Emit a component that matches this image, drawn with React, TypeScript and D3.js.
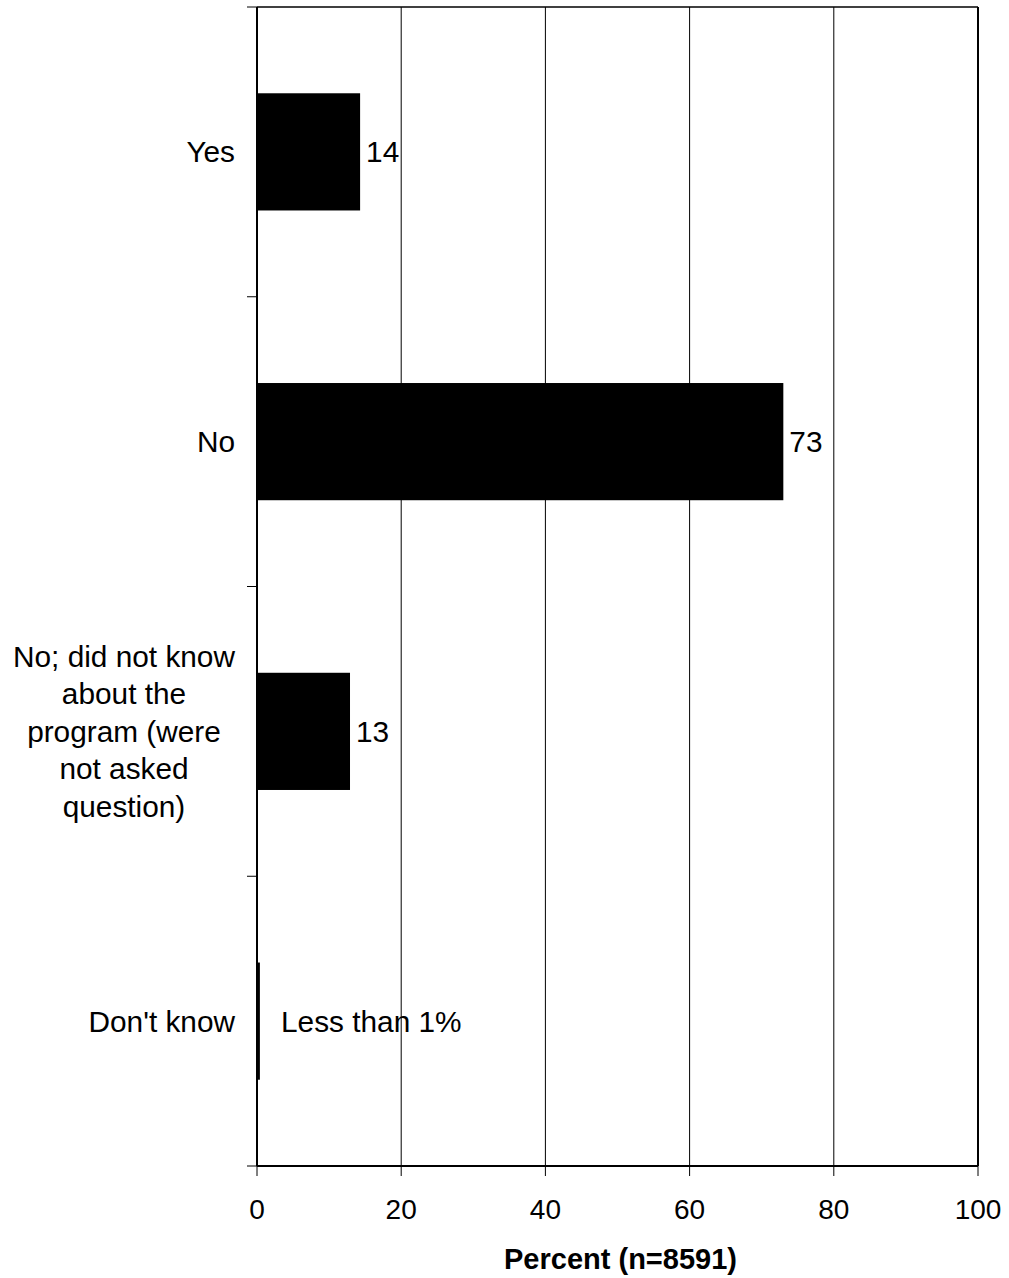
import React from "react";
import * as d3 from "d3";

const categories: string[][] = [
  ["Yes"],
  ["No"],
  ["No; did not know", "about the", "program (were", "not asked", "question)"],
  ["Don't know"],
];
const categoryKeys = ["Yes", "No", "NoDidNotKnow", "DontKnow"];
const values = [14.3, 73.0, 12.9, 0.4];
const valueLabels = ["14", "73", "13", "Less than 1%"];
const xTicks = [0, 20, 40, 60, 80, 100];
const xTitle = "Percent (n=8591)";

const W = 1009;
const H = 1278;
const FONT = "'Liberation Sans', Arial, Helvetica, sans-serif";

export default function App() {
  const x = d3.scaleLinear().domain([0, 100]).range([257, 978]);
  const pInner = 0.5955;
  const y = d3
    .scaleBand<string>()
    .domain(categoryKeys)
    .range([7, 1166])
    .paddingInner(pInner)
    .paddingOuter(pInner / 2);
  const step = y.step();
  const [y0, y1] = y.range();
  const boundaries = d3.range(categoryKeys.length + 1).map((i) => y0 + i * step);
  const fsLabel = 29.8;
  const fsTick = 28;
  const fsTitle = 29;
  const lineH = 37.5;

  return (
    <svg
      width={W}
      height={H}
      style={{ position: "absolute", left: 0, top: 0, background: "#fff" }}
      fontFamily={FONT}
    >
      <rect x={0} y={0} width={W} height={H} fill="#fff" />
      {/* gridlines */}
      {xTicks
        .filter((t) => t > 0 && t < 100)
        .map((t) => (
          <line key={"g" + t} x1={x(t)} x2={x(t)} y1={y0} y2={y1} stroke="#000" strokeWidth={1} />
        ))}
      {/* bars */}
      {categoryKeys.map((k, i) => (
        <rect
          key={"b" + k}
          x={x(0)}
          y={y(k)!}
          width={x(values[i]) - x(0)}
          height={y.bandwidth()}
          fill="#000"
        />
      ))}
      {/* frame */}
      <line x1={x(0)} x2={x(100)} y1={y0} y2={y0} stroke="#000" strokeWidth={1.5} />
      <line x1={x(100)} x2={x(100)} y1={y0} y2={y1} stroke="#000" strokeWidth={2} />
      <line x1={x(0)} x2={x(100)} y1={y1} y2={y1} stroke="#000" strokeWidth={2} />
      <line x1={x(0)} x2={x(0)} y1={y0} y2={y1} stroke="#000" strokeWidth={2} />
      {/* left ticks */}
      {boundaries.map((b, i) => (
        <line key={"lt" + i} x1={x(0) - 10} x2={x(0)} y1={b} y2={b} stroke="#000" strokeWidth={1} />
      ))}
      {/* bottom ticks */}
      {xTicks.map((t) => (
        <line key={"bt" + t} x1={x(t)} x2={x(t)} y1={y1} y2={y1 + 10} stroke="#000" strokeWidth={1} />
      ))}
      {/* x tick labels */}
      {xTicks.map((t) => (
        <text key={"tl" + t} x={x(t)} y={1219} fontSize={fsTick} textAnchor="middle" fill="#000">
          {t}
        </text>
      ))}
      {/* x title */}
      <text x={(x(0) + x(100)) / 2 + 3} y={1269} fontSize={fsTitle} fontWeight="bold" textAnchor="middle" fill="#000">
        {xTitle}
      </text>
      {/* category labels */}
      {categoryKeys.map((k, i) => {
        const lines = categories[i];
        const cy = y(k)! + y.bandwidth() / 2;
        if (lines.length === 1) {
          return (
            <text key={"c" + k} x={235} y={cy + 10.5} fontSize={fsLabel} textAnchor="end" fill="#000">
              {lines[0]}
            </text>
          );
        }
        const startY = cy + 10.5 - ((lines.length - 1) / 2) * lineH;
        return (
          <text key={"c" + k} fontSize={fsLabel} textAnchor="middle" fill="#000">
            {lines.map((ln, j) => (
              <tspan key={j} x={124} y={startY + j * lineH}>
                {ln}
              </tspan>
            ))}
          </text>
        );
      })}
      {/* value labels */}
      {categoryKeys.map((k, i) => {
        const cy = y(k)! + y.bandwidth() / 2;
        const isSmall = values[i] < 1;
        const lx = isSmall ? x(0) + 24 : x(values[i]) + 6;
        return (
          <text key={"v" + k} x={lx} y={cy + 10.5} fontSize={fsLabel} fill="#000">
            {valueLabels[i]}
          </text>
        );
      })}
    </svg>
  );
}
